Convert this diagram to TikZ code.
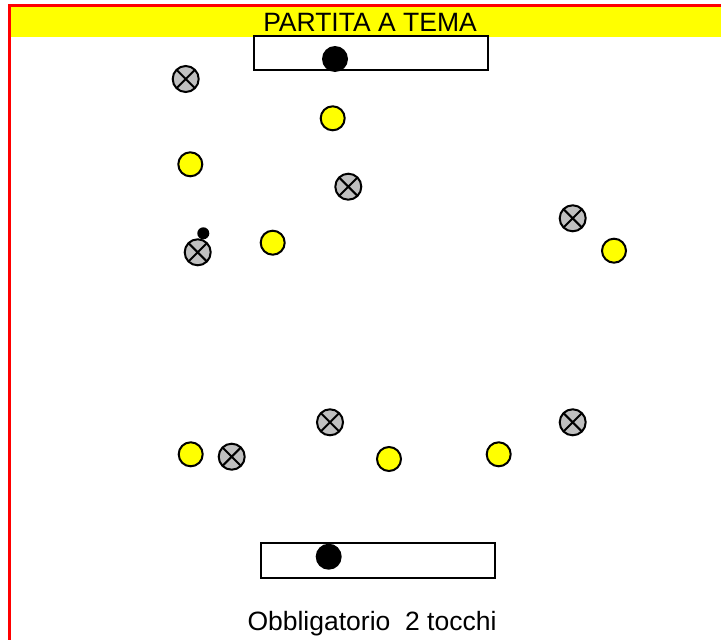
\documentclass[tikz,border=0pt]{standalone}
\usepackage{fontspec}
\setmainfont{Liberation Sans}
\definecolor{pitchred}{RGB}{255,0,0}
\definecolor{bandyellow}{RGB}{255,255,0}
\definecolor{bibgrey}{RGB}{192,192,192}
\tikzset{
  yplayer/.style={circle, draw=black, line width=2pt, fill=bandyellow, minimum size=24pt, inner sep=0pt},
  gplayer/.style={circle, draw=black, line width=2pt, fill=bibgrey, minimum size=26pt, inner sep=0pt,
    path picture={\draw[line width=2pt] (path picture bounding box.north west) -- (path picture bounding box.south east)
      (path picture bounding box.north east) -- (path picture bounding box.south west);}},
  ball/.style={circle, fill=black, inner sep=0pt, minimum size=#1},
  goalbox/.style={draw=black, line width=2pt}
}
\begin{document}
\begin{tikzpicture}[x=1pt, y=-1pt]
			%%%%% START %%%%%
			\useasboundingbox (0,0) rectangle (721,640);
			\clip (0,0) rectangle (721,640);
			
			% frame and title band
			\fill[bandyellow] (11,7) rectangle (730,37);
			\draw[pitchred, line width=3pt] (9.5,660) -- (9.5,5.5) -- (740,5.5);
			\node (title) at (370,22) {\fontsize{26.5}{30}\selectfont PARTITA A TEMA};
			
			% goals
			\draw[goalbox] (254,36) rectangle (488,70);
			\node[ball=26pt] (topball) at (335,59) {};
			\draw[goalbox] (260.7,543.3) rectangle (495.3,577.7);
			\node[ball=26pt] (botball) at (328.7,556.7) {};
			
			% grey team
			\node[gplayer] (g1) at (185.7,79) {};
			\node[gplayer] (g2) at (348.3,186.7) {};
			\node[gplayer] (g3) at (197.7,252.3) {};
			\node[gplayer] (g4) at (572.7,218.3) {};
			\node[gplayer] (g5) at (330,422.3) {};
			\node[gplayer] (g6) at (572.7,422.3) {};
			\node[gplayer] (g7) at (231.7,456.7) {};
			
			% yellow team
			\node[yplayer] (y1) at (332.7,118.3) {};
			\node[yplayer] (y2) at (190.3,164.3) {};
			\node[yplayer] (y3) at (272.7,242.7) {};
			\node[yplayer] (y4) at (614,250.7) {};
			\node[yplayer] (y5) at (190.7,454.3) {};
			\node[yplayer] (y6) at (389,459) {};
			\node[yplayer] (y7) at (498.7,454.3) {};
			
			% ball
			\node[ball=12pt] (pallone) at (203.3,233.3) {};
			
			\node[anchor=base] (note) at (372,630) {\fontsize{26.5}{30}\selectfont Obbligatorio\ \ 2 tocchi};
			%%%%% END %%%%%
\end{tikzpicture}
\end{document}
